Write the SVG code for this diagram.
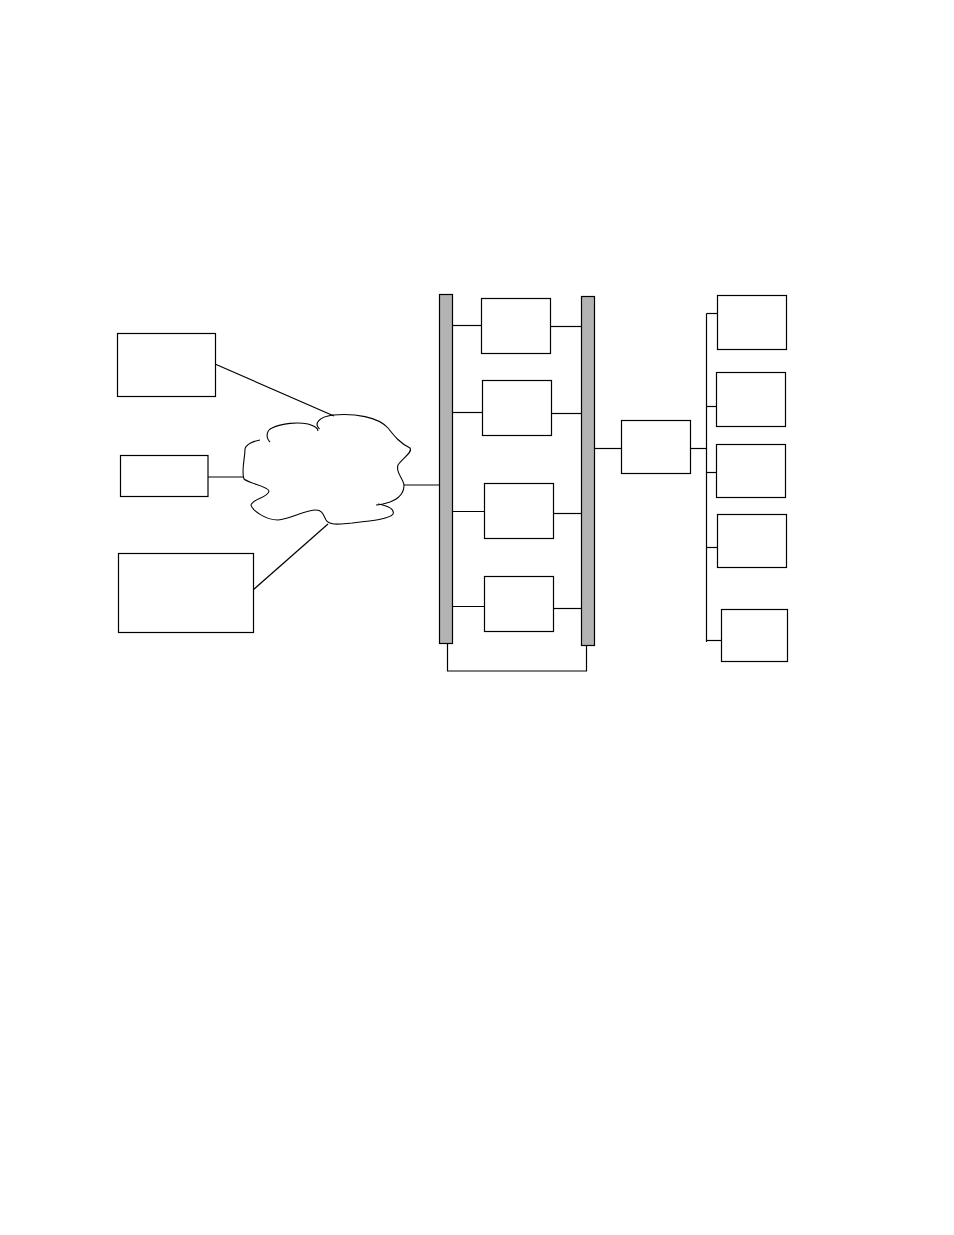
<svg xmlns="http://www.w3.org/2000/svg" width="954" height="1235" viewBox="0 0 954 1235">
<style>
.box{fill:#fff;stroke:#000;stroke-width:1.2}
.bar{fill:#b3b3b3;stroke:#000;stroke-width:1.2}
.ln{fill:none;stroke:#000;stroke-width:1.2}
.cloud{fill:none;stroke:#000;stroke-width:1.1}
</style>
<rect width="954" height="1235" fill="#fff"/>
<g id="connectors">
<line class="ln" x1="215" y1="364" x2="334" y2="416"/>
<line class="ln" x1="208" y1="477" x2="243" y2="477"/>
<line class="ln" x1="253" y1="590" x2="328" y2="524"/>
<line class="ln" x1="404" y1="485" x2="440" y2="485"/>
<line class="ln" x1="452" y1="325.5" x2="482" y2="325.5"/>
<line class="ln" x1="550" y1="326.5" x2="582" y2="326.5"/>
<line class="ln" x1="452" y1="412.5" x2="483" y2="412.5"/>
<line class="ln" x1="551" y1="413.5" x2="582" y2="413.5"/>
<line class="ln" x1="452" y1="511.5" x2="485" y2="511.5"/>
<line class="ln" x1="553" y1="513.5" x2="582" y2="513.5"/>
<line class="ln" x1="452" y1="606.5" x2="485" y2="606.5"/>
<line class="ln" x1="553" y1="608.5" x2="582" y2="608.5"/>
<polyline class="ln" points="447.5,643 447.5,671 586.5,671 586.5,645"/>
<line class="ln" x1="594" y1="448.5" x2="622" y2="448.5"/>
<line class="ln" x1="690" y1="448.5" x2="706.5" y2="448.5"/>
<line class="ln" x1="706.5" y1="313.5" x2="706.5" y2="642"/>
<line class="ln" x1="706.5" y1="313.5" x2="717" y2="313.5"/>
<line class="ln" x1="706.5" y1="406.5" x2="716" y2="406.5"/>
<line class="ln" x1="706.5" y1="472.5" x2="716" y2="472.5"/>
<line class="ln" x1="706.5" y1="547.5" x2="717" y2="547.5"/>
<line class="ln" x1="706.5" y1="640.5" x2="721" y2="640.5"/>
</g>
<g id="boxA"><rect class="box" x="117.5" y="333.5" width="98" height="63"/></g>
<g id="boxB"><rect class="box" x="120.5" y="455.5" width="87.5" height="41"/></g>
<g id="boxC"><rect class="box" x="118.5" y="553.5" width="135" height="79"/></g>
<g id="cloud">
<path class="cloud" d="M319.5,429 C314,424 318,417 333,415 C355,413 378,417 388,428 C395,437 400,443 410,448 C413,452 403,458 398,465 C395,472 403,478 404,485 C404,493 398,499 390,502 C384,504 380,505 376,505"/>
<path class="cloud" d="M378,504 C388,506 395,509 393,514 C390,519 370,521 352,523 C340,524 330,526 326,520 C323,514 322,510 316,510 C305,510 290,519 278,520 C265,520 252,510 251,505 C252,499 268,498 269,491 C268,486 250,484 244,479 C241,472 245,458 245,449 C246,444 254,441 260,440"/>
<path class="cloud" d="M270,442 C265,437 267,430 272,428 C282,423 298,422 308,424 C315,426 318,428 318,431"/>
</g>
<g id="barLeft"><rect class="bar" x="439.5" y="294.5" width="13" height="349"/></g>
<g id="barRight"><rect class="bar" x="581.5" y="296.5" width="13" height="349"/></g>
<g id="srv1"><rect class="box" x="481.5" y="298.5" width="69" height="55"/></g>
<g id="srv2"><rect class="box" x="482.5" y="380.5" width="69" height="55"/></g>
<g id="srv3"><rect class="box" x="484.5" y="483.5" width="69" height="55"/></g>
<g id="srv4"><rect class="box" x="484.5" y="576.5" width="69" height="55"/></g>
<g id="hub"><rect class="box" x="621.5" y="420.5" width="69" height="53"/></g>
<g id="r1"><rect class="box" x="717.5" y="295.5" width="69" height="54"/></g>
<g id="r2"><rect class="box" x="716.5" y="372.5" width="69" height="54"/></g>
<g id="r3"><rect class="box" x="716.5" y="444.5" width="69" height="53"/></g>
<g id="r4"><rect class="box" x="717.5" y="514.5" width="69" height="53"/></g>
<g id="r5"><rect class="box" x="721.5" y="609.5" width="66" height="52"/></g>
</svg>
